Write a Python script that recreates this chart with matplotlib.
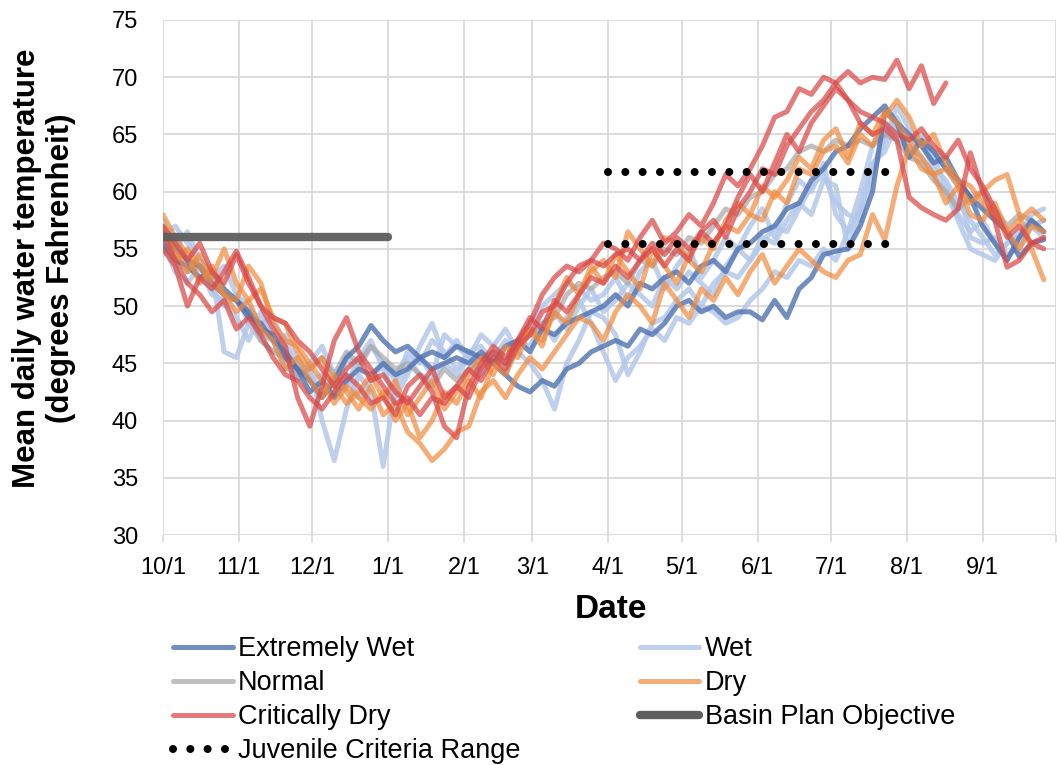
import numpy as np
import matplotlib.pyplot as plt
from matplotlib.lines import Line2D

plt.rcParams['font.family'] = ['Liberation Sans', 'DejaVu Sans']

# water year, day 0 = Oct 1; temperature read every 5 days
step = 5
month_days = [0, 31, 61, 92, 123, 151, 182, 212, 243, 273, 304, 335, 365]
month_labels = ['10/1', '11/1', '12/1', '1/1', '2/1', '3/1', '4/1',
                '5/1', '6/1', '7/1', '8/1', '9/1', '']

# mean daily water temperature (F) by water-year type
ew_a = [55.5, 54.0, 53.5, 52.5, 53.0, 51.5, 50.5, 49.0, 48.5, 47.0, 46.0, 44.5,
        43.5, 42.0, 43.5, 45.5, 46.5, 48.3, 47.0, 46.0, 46.5, 45.5, 46.0, 45.5,
        46.5, 46.0, 45.5, 45.0, 44.0, 43.0, 42.5, 43.5, 43.0, 44.5, 45.0, 46.0,
        46.5, 47.0, 46.5, 48.0, 47.5, 48.5, 50.0, 50.5, 49.5, 50.0, 49.0, 49.5,
        49.5, 48.8, 50.5, 49.0, 51.5, 52.5, 54.5, 54.8, 55.0, 57.0, 60.0, 67.0,
        66.0, 63.0, 64.5, 63.5, 62.0, 61.0, 59.5, 58.5, 57.5, 56.5, 54.3, 55.5, 55.8]
ew_b = [56.5, 55.0, 54.0, 53.5, 52.0, 51.0, 50.5, 49.5, 48.0, 47.5, 45.5, 44.5,
        42.5, 43.5, 42.0, 43.5, 44.5, 44.0, 45.0, 44.0, 44.5, 45.5, 44.5, 45.0,
        45.5, 45.0, 46.0, 45.0, 46.5, 47.0, 46.0, 48.0, 47.5, 48.5, 49.0, 49.5,
        50.0, 51.0, 50.0, 52.0, 51.5, 52.5, 53.0, 52.0, 53.5, 54.0, 53.0, 55.0,
        55.5, 56.5, 57.0, 58.5, 59.0, 61.0, 62.0, 63.5, 64.0, 65.5, 66.5, 67.5,
        66.0, 65.0, 64.0, 62.5, 63.0, 61.0, 59.5, 57.0, 55.5, 54.0, 56.0, 57.5, 56.5]

wet_a = [57.5, 55.0, 56.5, 54.0, 53.0, 46.0, 45.5, 48.5, 47.5, 47.0, 45.0, 43.5,
         45.0, 40.0, 36.5, 41.0, 44.0, 42.5, 36.0, 43.0, 44.5, 45.5, 44.0, 47.5,
         46.5, 45.5, 44.0, 45.5, 47.0, 46.0, 45.0, 43.5, 41.0, 45.0, 47.0, 49.5,
         49.0, 47.5, 44.0, 46.0, 48.5, 49.0, 50.5, 51.5, 50.0, 52.0, 53.0, 52.5,
         54.0, 55.5, 57.0, 56.5, 58.5, 60.5, 61.5, 59.0, 58.0, 57.5, 61.5, 64.5,
         67.5, 65.5, 64.0, 63.5, 62.0, 60.5, 56.0, 55.5, 56.0, 54.5, 55.0, 57.0, 57.5]
wet_b = [55.5, 53.0, 52.0, 53.5, 51.0, 50.5, 49.0, 47.0, 49.5, 47.0, 44.5, 45.5,
         43.5, 44.0, 42.0, 45.5, 44.5, 46.5, 45.0, 43.5, 46.0, 45.0, 47.0, 46.0,
         44.5, 46.0, 46.5, 45.0, 44.0, 46.5, 47.5, 48.5, 47.0, 49.0, 50.5, 48.5,
         46.0, 43.5, 45.5, 46.5, 48.0, 47.0, 49.0, 48.5, 50.0, 49.5, 48.5, 49.0,
         50.5, 51.5, 53.0, 52.5, 54.0, 53.5, 55.0, 54.0, 56.5, 58.5, 62.0, 65.0,
         66.5, 64.0, 63.0, 61.5, 60.0, 57.5, 55.0, 54.5, 54.0, 55.5, 56.5, 57.0, 56.0]
wet_c = [56.0, 57.0, 55.5, 54.0, 52.5, 53.5, 51.0, 50.0, 48.5, 49.0, 46.5, 44.0,
         45.0, 46.5, 44.0, 43.0, 45.5, 47.0, 44.5, 42.0, 44.0, 46.5, 48.5, 45.5,
         47.0, 45.5, 47.5, 46.5, 48.0, 46.0, 48.5, 50.0, 51.0, 52.0, 51.5, 50.5,
         51.0, 52.5, 50.5, 53.0, 54.0, 51.5, 53.5, 55.0, 52.5, 54.0, 56.0, 55.0,
         57.0, 58.5, 56.0, 59.0, 61.0, 60.0, 62.5, 58.0, 56.5, 60.0, 64.0, 66.0,
         65.5, 63.5, 64.5, 62.0, 61.0, 59.0, 57.5, 56.0, 54.5, 55.5, 56.0, 57.0, 57.5]
wet_d = [54.5, 56.0, 54.0, 52.5, 51.5, 50.0, 51.0, 48.5, 47.0, 46.0, 47.5, 45.0,
         44.0, 42.5, 43.5, 44.0, 42.0, 43.5, 45.0, 44.0, 45.5, 44.0, 43.5, 45.0,
         44.0, 45.5, 44.5, 46.0, 45.0, 47.0, 46.5, 48.5, 49.5, 48.0, 50.0, 51.5,
         49.5, 50.5, 52.0, 51.0, 50.0, 52.5, 51.5, 53.0, 52.0, 51.0, 53.5, 55.0,
         54.0, 56.0, 55.5, 57.5, 59.0, 58.0, 61.0, 60.5, 55.0, 58.5, 62.5, 63.5,
         66.0, 64.5, 65.0, 63.0, 60.5, 58.0, 56.5, 57.5, 55.5, 54.0, 56.0, 58.0, 58.5]

normal_a = [55.0, 54.5, 53.0, 53.5, 52.0, 51.0, 50.5, 49.5, 47.0, 46.0, 45.5, 44.0,
            44.5, 45.5, 44.0, 46.0, 45.0, 46.5, 45.5, 44.5, 45.0, 44.0, 43.0, 44.5,
            43.5, 44.5, 45.5, 46.0, 45.0, 47.0, 47.5, 48.5, 49.0, 51.0, 52.0, 51.5,
            52.5, 53.0, 52.0, 54.0, 53.5, 55.0, 54.5, 56.0, 55.5, 57.0, 58.5, 58.0,
            59.5, 60.0, 61.5, 62.0, 63.5, 64.0, 63.5, 64.5, 64.0, 64.5, 64.0, 65.0,
            64.5, 63.0, 62.5, 61.0, 60.0, 58.5, 59.5, 60.0, 58.5, 57.0, 58.0, 57.5, 56.5]

dry_a = [58.0, 56.0, 54.5, 52.0, 53.5, 51.0, 49.5, 50.5, 48.0, 47.0, 44.5, 45.5,
         43.5, 42.0, 44.0, 42.5, 41.0, 43.0, 40.5, 41.5, 39.0, 38.0, 36.5, 37.5,
         39.0, 39.5, 42.5, 43.5, 42.0, 44.0, 45.5, 44.5, 46.0, 47.5, 49.0, 48.5,
         47.0, 49.5, 51.0, 50.0, 48.5, 52.0, 50.5, 49.0, 51.5, 50.5, 52.5, 51.0,
         53.0, 54.5, 52.0, 53.5, 55.0, 54.0, 53.0, 52.5, 54.0, 54.5, 58.0, 55.8,
         60.5, 64.0, 62.0, 61.5, 59.0, 60.5, 58.0, 57.5, 59.0, 56.5, 55.0, 57.0, 56.5]
dry_b = [57.0, 55.0, 53.0, 54.5, 52.5, 55.0, 52.0, 50.5, 51.5, 49.0, 48.5, 46.0,
         44.5, 45.5, 43.0, 41.5, 42.5, 44.0, 42.0, 43.5, 40.5, 42.0, 43.5, 41.0,
         42.5, 44.0, 45.5, 44.0, 46.5, 45.5, 48.0, 47.0, 49.5, 48.5, 51.0, 53.0,
         54.0, 52.5, 56.5, 55.0, 53.5, 56.0, 55.5, 54.0, 53.0, 55.5, 57.0, 56.5,
         58.0, 57.5, 60.0, 59.0, 62.0, 61.5, 63.5, 64.0, 62.5, 65.0, 64.0, 66.5,
         68.0, 66.5, 64.0, 65.0, 62.5, 61.0, 60.5, 59.0, 58.0, 56.5, 57.5, 58.5, 57.5]
dry_c = [56.5, 54.0, 55.0, 53.5, 52.0, 51.0, 50.5, 53.5, 52.0, 48.5, 47.0, 46.5,
         45.0, 43.5, 41.5, 43.0, 42.0, 41.0, 42.5, 40.0, 41.5, 38.5, 40.0, 42.5,
         41.5, 43.5, 42.0, 45.0, 44.0, 46.5, 48.0, 46.5, 50.0, 52.5, 51.0, 53.5,
         52.0, 54.5, 53.0, 51.5, 55.0, 53.5, 52.0, 54.5, 56.0, 55.0, 57.5, 59.0,
         58.0, 60.5, 59.5, 61.0, 63.0, 62.0, 64.5, 65.5, 63.0, 66.0, 65.0, 67.0,
         66.0, 64.5, 63.0, 61.5, 62.0, 60.5, 59.0, 60.0, 61.0, 61.5, 58.0, 55.0, 52.3]

cd_a = [57.0, 55.5, 54.0, 55.5, 53.0, 52.0, 54.5, 52.0, 50.0, 49.0, 48.5, 47.0,
        46.0, 44.5, 43.0, 44.5, 45.5, 43.5, 44.0, 42.5, 41.5, 43.0, 44.5, 42.0,
        43.0, 44.5, 43.5, 45.5, 44.5, 46.5, 47.5, 49.5, 50.0, 52.0, 53.5, 54.0,
        53.5, 54.5, 55.0, 54.0, 55.5, 54.5, 56.0, 55.0, 56.5, 57.5, 56.0, 58.5,
        60.0, 62.0, 61.5, 64.0, 65.5, 67.0, 68.0, 69.5, 70.5, 69.5, 70.0, 69.8,
        71.5, 69.0, 71.0, 67.7, 69.5]
cd_b = [55.0, 53.5, 50.0, 52.5, 51.5, 53.0, 54.8, 52.5, 50.0, 48.0, 46.5, 42.0,
        39.5, 43.0, 47.0, 49.0, 46.0, 44.5, 43.0, 41.5, 42.0, 40.5, 42.0, 41.5,
        43.0, 42.0, 44.5, 46.0, 45.0, 47.0, 48.5, 51.0, 52.5, 53.5, 53.0, 54.0,
        55.5, 55.0, 54.0, 56.0, 57.5, 55.5, 56.5, 58.0, 57.0, 59.0, 61.5, 60.5,
        62.0, 64.0, 66.5, 67.0, 69.0, 68.5, 70.0, 69.5, 68.0, 66.0, 65.0, 65.5,
        64.5, 59.5, 58.6, 58.0, 57.5, 58.5, 63.4, 60.0, 57.5, 53.4, 54.0, 55.5, 56.0]
cd_c = [56.5, 54.0, 52.0, 51.0, 49.5, 50.5, 48.0, 49.0, 47.5, 45.5, 44.0, 43.5,
        42.0, 41.0, 42.5, 44.0, 43.0, 41.5, 42.0, 40.5, 43.0, 44.0, 42.5, 39.5,
        38.5, 43.0, 45.0, 46.5, 45.5, 47.0, 49.0, 48.0, 50.5, 49.5, 51.0, 52.5,
        52.0, 53.5, 52.5, 54.0, 55.0, 53.5, 55.0, 54.0, 56.5, 55.5, 57.0, 59.5,
        61.5, 60.0, 62.5, 65.0, 63.5, 66.0, 67.5, 69.0, 68.0, 67.0, 66.5, 66.0,
        65.0, 64.5, 65.5, 64.0, 63.0, 64.5, 62.0, 60.5, 58.5, 56.0, 57.0, 55.5, 55.0]

# reference lines
basin_value = 56.0
basin_days = [0, 92]
juvenile_low = 55.4
juvenile_high = 61.7
juvenile_days = [182, 297]

styles = {
    'Extremely Wet': dict(color='#4F72B0', alpha=0.8),
    'Wet': dict(color='#B4C8EA', alpha=0.85),
    'Normal': dict(color='#A6A6A6', alpha=0.7),
    'Dry': dict(color='#F08A3E', alpha=0.7),
    'Critically Dry': dict(color='#D94848', alpha=0.72),
}
groups = [('Wet', [wet_a, wet_b, wet_c, wet_d]),
          ('Normal', [normal_a]),
          ('Extremely Wet', [ew_b, ew_a]),
          ('Dry', [dry_a, dry_b, dry_c]),
          ('Critically Dry', [cd_a, cd_b, cd_c])]

fig = plt.figure(figsize=(10.57, 7.65), dpi=100)
ax = fig.add_axes([163/1057, 1-535/765, 893/1057, 515/765])

lw = 3.6
for name, series in groups:
    for s in series:
        days = np.arange(len(s))*step
        ax.plot(days, s, lw=lw, solid_joinstyle='round', solid_capstyle='round',
                **styles[name])

ax.plot(basin_days, [basin_value]*2, color='#5E5E5E', lw=6, alpha=0.95,
        solid_capstyle='round')
dots = dict(color='black', lw=5.8, linestyle=(0, (0.001, 2.15)), dash_capstyle='round')
ax.plot(juvenile_days, [juvenile_high]*2, **dots)
ax.plot(juvenile_days, [juvenile_low]*2, **dots)

ax.set_xlim(0, 365)
ax.set_ylim(30, 75)
ax.set_xticks(month_days)
ax.set_xticklabels(month_labels)
ax.set_yticks(np.arange(30, 76, 5))
ax.grid(True, color='#D9D9D9', lw=1.3)
ax.set_axisbelow(True)
for sp in ax.spines.values():
    sp.set_visible(False)
ax.tick_params(axis='x', length=5, width=1.3, color='#D9D9D9', pad=11, labelsize=17)
ax.tick_params(axis='y', length=0, pad=18, labelsize=17)

fig.text(44/1057, 1-268/765, 'Mean daily water temperature\n(degrees Fahrenheit)',
         rotation=90, ha='center', va='center', fontsize=22.5, fontweight='bold',
         linespacing=1.2)
fig.text(611/1057, 1-610/765, 'Date', ha='center', va='center', fontsize=24,
         fontweight='bold')

def handle(name):
    return Line2D([], [], lw=lw, solid_capstyle='round', **styles[name])

handles = [handle('Extremely Wet'), handle('Normal'), handle('Critically Dry'),
           Line2D([], [], **dots),
           handle('Wet'), handle('Dry'),
           Line2D([], [], color='#5E5E5E', lw=6, solid_capstyle='round')]
labels = ['Extremely Wet', 'Normal', 'Critically Dry', 'Juvenile Criteria Range',
          'Wet', 'Dry', 'Basin Plan Objective']
fig.legend(handles, labels, loc='upper left', bbox_to_anchor=(173/1057, 1-636/765),
           ncol=2, frameon=False, fontsize=19.5, handlelength=2.2,
           handletextpad=0.2, columnspacing=4.4, labelspacing=0.3,
           borderpad=0, borderaxespad=0)

fig.savefig('out.png', dpi=100)
